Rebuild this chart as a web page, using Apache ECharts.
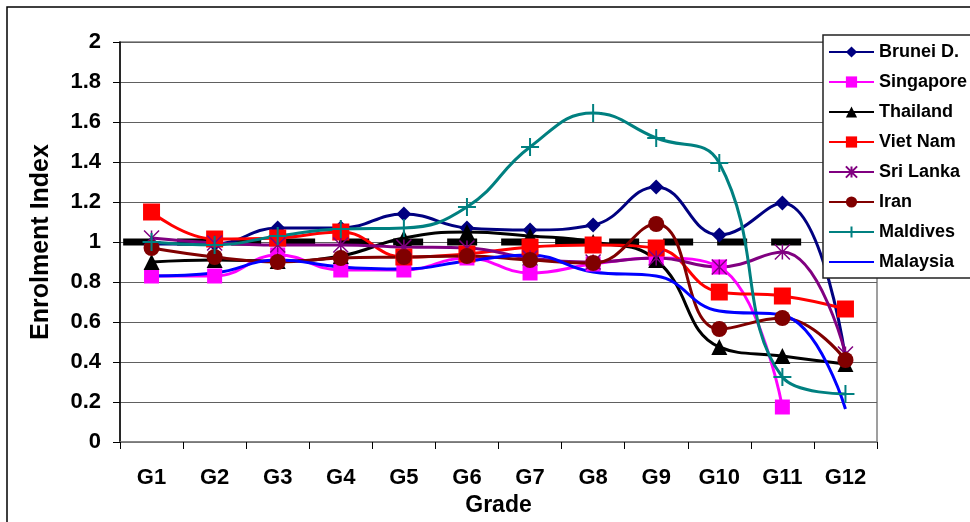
<!DOCTYPE html>
<html>
<head>
<meta charset="utf-8">
<script src="https://cdn.jsdelivr.net/npm/echarts@6/dist/echarts.min.js"></script>
<style>
html,body{margin:0;padding:0;background:#fff;}
#chart{width:970px;height:522px;}
</style>
</head>
<body>
<div id="chart"></div>
<script>
// ---- data ----
const categories = ['G1','G2','G3','G4','G5','G6','G7','G8','G9','G10','G11','G12'];
const brunei    = [0.99, 0.99, 1.07, 1.07, 1.14, 1.07, 1.06, 1.085, 1.275, 1.035, 1.195, 0.42];
const singapore = [0.83, 0.83, 0.935, 0.86, 0.86, 0.92, 0.845, 0.89, 0.92, 0.875, 0.175, '-'];
const thailand  = [0.90, 0.91, 0.905, 0.93, 1.02, 1.05, 1.03, 1.0, 0.91, 0.475, 0.43, 0.39];
const vietnam   = [1.15, 1.015, 1.02, 1.05, 0.925, 0.94, 0.975, 0.985, 0.97, 0.75, 0.73, 0.665];
const srilanka  = [1.02, 0.995, 0.985, 0.985, 0.975, 0.97, 0.92, 0.90, 0.92, 0.875, 0.95, 0.44];
const iran      = [0.97, 0.925, 0.90, 0.92, 0.925, 0.93, 0.91, 0.895, 1.09, 0.565, 0.62, 0.41];
const maldives  = [1.0, 0.985, 1.03, 1.065, 1.07, 1.175, 1.475, 1.645, 1.52, 1.395, 0.325, 0.24];
const malaysia  = [0.83, 0.845, 0.91, 0.875, 0.865, 0.905, 0.935, 0.85, 0.83, 0.655, 0.635, 0.165];
// parity reference line (position along the grades, value)
const parityX = [0.05, 10.8];
const parityValue = 1;
const yTicks = {min: 0, max: 2, interval: 0.2};

const FONT = "'Liberation Sans', Arial, sans-serif";
const starPath = 'path://M0,0L10,10M10,0L0,10M5,0L5,10';
const plusPath = 'path://M5,0L5,10M0,5L10,5';

function mk(name, data, color, symbol, size, extra) {
  return Object.assign({
    name: name, type: 'line', data: data, smooth: 0.45,
    xAxisIndex: 0, yAxisIndex: 0,
    symbol: symbol, symbolSize: size,
    lineStyle: {color: color, width: 3},
    itemStyle: {color: color, borderWidth: 0},
    emphasis: {disabled: true},
    animation: false
  }, extra || {});
}

const series = [
  {
    name: 'parity', type: 'line', xAxisIndex: 1, yAxisIndex: 0,
    data: parityX.map(x => [x, parityValue]),
    symbol: 'none', silent: true, animation: false,
    lineStyle: {color: '#000', width: 7, type: [30, 24], cap: 'butt'}
  },
  mk('Brunei D.', brunei, '#000080', 'diamond', 15),
  mk('Singapore', singapore, '#FF00FF', 'rect', 15),
  mk('Thailand', thailand, '#000000', 'triangle', 16),
  mk('Viet Nam', vietnam, '#FF0000', 'rect', 17),
  mk('Sri Lanka', srilanka, '#800080', starPath, 15, {itemStyle: {color: '#800080', borderColor: '#800080', borderWidth: 1.5}}),
  mk('Iran', iran, '#800000', 'circle', 16),
  mk('Maldives', maldives, '#008080', plusPath, 18, {itemStyle: {color: '#008080', borderColor: '#008080', borderWidth: 2}}),
  mk('Malaysia', malaysia, '#0000FF', 'circle', 6, {showSymbol: false, itemStyle: {color: '#0000FF', opacity: 0}})
];

const chart = echarts.init(document.getElementById('chart'), null, {renderer: 'canvas'});
chart.setOption({
  animation: false,
  backgroundColor: '#fff',
  textStyle: {fontFamily: FONT},
  graphic: [{
    type: 'rect', shape: {x: 7, y: 7, width: 1200, height: 800},
    style: {fill: 'none', stroke: '#000', lineWidth: 1.5}, silent: true, z: 0
  }, {
    type: 'rect', shape: {x: 823, y: 35, width: 300, height: 243},
    style: {fill: '#fff', stroke: '#222', lineWidth: 1.5}, silent: true, z: 8
  }],
  grid: {
    left: 120, right: 93, top: 42, bottom: 80,
    show: true, borderColor: '#808080', borderWidth: 1.5
  },
  legend: {
    orient: 'vertical', left: 823, top: 35,
    data: ['Brunei D.','Singapore','Thailand','Viet Nam','Sri Lanka','Iran','Maldives','Malaysia'],
    itemWidth: 45, itemHeight: 14, itemGap: 12,
    padding: [8, 10, 8, 5],
    borderWidth: 0,
    textStyle: {fontSize: 18, fontWeight: 'bold', color: '#000', fontFamily: FONT},
    selectedMode: false, z: 10
  },
  xAxis: [{
    type: 'category', data: categories, boundaryGap: true,
    name: 'Grade', nameLocation: 'middle', nameGap: 46,
    nameTextStyle: {fontSize: 23, fontWeight: 'bold', color: '#000', fontFamily: FONT},
    axisLine: {lineStyle: {color: '#808080', width: 1.5}},
    axisTick: {show: true, length: 7, lineStyle: {color: '#000', width: 1}},
    axisLabel: {fontSize: 22, fontWeight: 'bold', color: '#000', margin: 25, fontFamily: FONT},
    splitLine: {show: false}
  }, {
    type: 'value', min: 0, max: 12, show: false
  }],
  yAxis: {
    type: 'value', min: yTicks.min, max: yTicks.max, interval: yTicks.interval,
    name: 'Enrolment Index', nameLocation: 'middle', nameGap: 66,
    nameTextStyle: {fontSize: 25, fontWeight: 'bold', color: '#000', fontFamily: FONT},
    axisLine: {show: true, lineStyle: {color: '#000', width: 1.5}},
    axisTick: {show: true, length: 7, lineStyle: {color: '#000', width: 1}},
    axisLabel: {fontSize: 22, fontWeight: 'bold', color: '#000', margin: 19, fontFamily: FONT},
    splitLine: {show: true, lineStyle: {color: '#606060', width: 1.2}}
  },
  series: series
});
</script>
</body>
</html>
